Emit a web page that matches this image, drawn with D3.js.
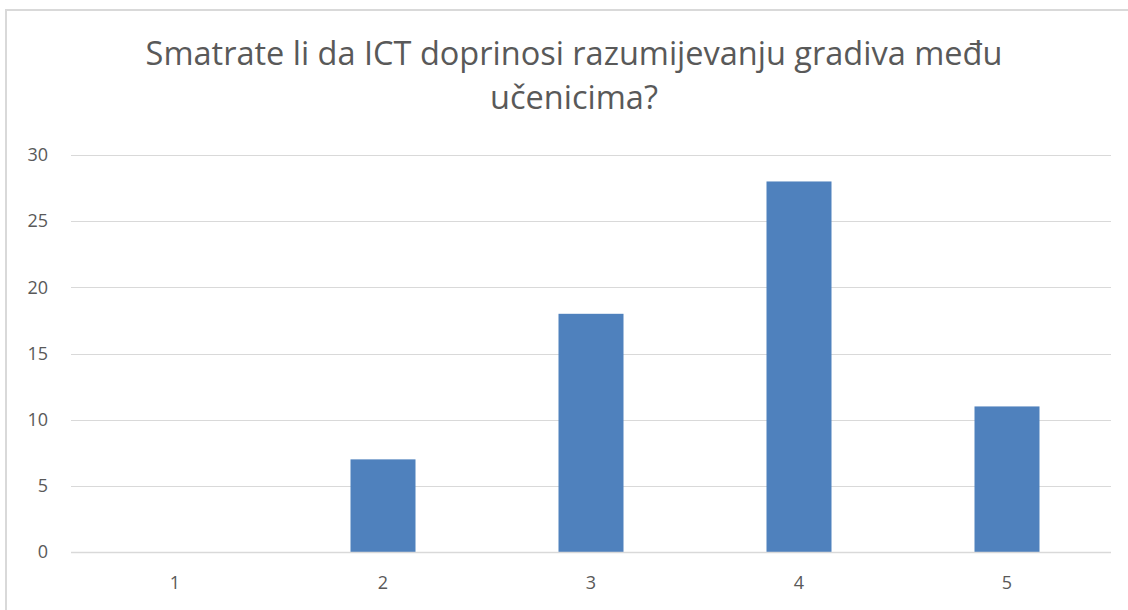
<!DOCTYPE html>
<html>
<head>
<meta charset="utf-8">
<script src="https://cdn.jsdelivr.net/npm/d3@7"></script>
<style>
  body { margin: 0; background: #fff; }
  svg { display: block; font-family: "Open Sans", "Liberation Sans", sans-serif; }
</style>
</head>
<body>
<div id="chart"></div>
<script>
const categories = ["1", "2", "3", "4", "5"];
const values = [0, 7, 18, 28, 11];
const yTicks = [0, 5, 10, 15, 20, 25, 30];
const titleLines = ["Smatrate li da ICT doprinosi razumijevanju gradiva među", "učenicima?"];

const w = 1128, h = 610;
const margin = { top: 155, right: 17, bottom: 58, left: 71 };

const svg = d3.select("#chart")
  .append("svg")
  .attr("width", w)
  .attr("height", h);

// chart frame
svg.append("rect")
  .attr("x", 6).attr("y", 10)
  .attr("width", w - 5).attr("height", h)
  .attr("fill", "#fff")
  .attr("stroke", "#d9d9d9")
  .attr("stroke-width", 2);

const x = d3.scaleBand()
  .domain(categories)
  .range([margin.left, w - margin.right])
  .paddingInner(0.6875)
  .paddingOuter(0.34375);

const y = d3.scaleLinear()
  .domain([0, 30])
  .range([h - margin.bottom, margin.top]);

// gridlines
svg.append("g")
  .selectAll("line")
  .data(yTicks)
  .join("line")
  .attr("x1", margin.left)
  .attr("x2", w - margin.right)
  .attr("y1", d => Math.round(y(d)) + 0.5)
  .attr("y2", d => Math.round(y(d)) + 0.5)
  .attr("stroke", "#d9d9d9")
  .attr("stroke-width", 1);

// y labels
svg.append("g")
  .selectAll("text")
  .data(yTicks)
  .join("text")
  .attr("x", 48)
  .attr("y", d => y(d))
  .attr("dy", "0.35em")
  .attr("text-anchor", "end")
  .attr("fill", "#595959")
  .style("font-size", "18px")
  .text(d => d);

// bars
svg.append("g")
  .selectAll("rect")
  .data(values)
  .join("rect")
  .attr("x", (d, i) => x(categories[i]))
  .attr("width", x.bandwidth())
  .attr("y", d => y(d))
  .attr("height", d => y(0) - y(d))
  .attr("fill", "#4f81bd");

// x axis line
svg.append("line")
  .attr("x1", margin.left)
  .attr("x2", w - margin.right)
  .attr("y1", y(0) + 0.5)
  .attr("y2", y(0) + 0.5)
  .attr("stroke", "#d9d9d9")
  .attr("stroke-width", 1.5);

// x labels
svg.append("g")
  .selectAll("text")
  .data(categories)
  .join("text")
  .attr("x", d => x(d) + x.bandwidth() / 2)
  .attr("y", y(0) + 31)
  .attr("dy", "0.35em")
  .attr("text-anchor", "middle")
  .attr("fill", "#595959")
  .style("font-size", "18px")
  .text(d => d);

// title
svg.append("g")
  .selectAll("text")
  .data(titleLines)
  .join("text")
  .attr("x", 574)
  .attr("y", (d, i) => 65 + i * 44)
  .attr("text-anchor", "middle")
  .attr("fill", "#595959")
  .style("font-size", "32.5px")
  .text(d => d);
</script>
</body>
</html>
